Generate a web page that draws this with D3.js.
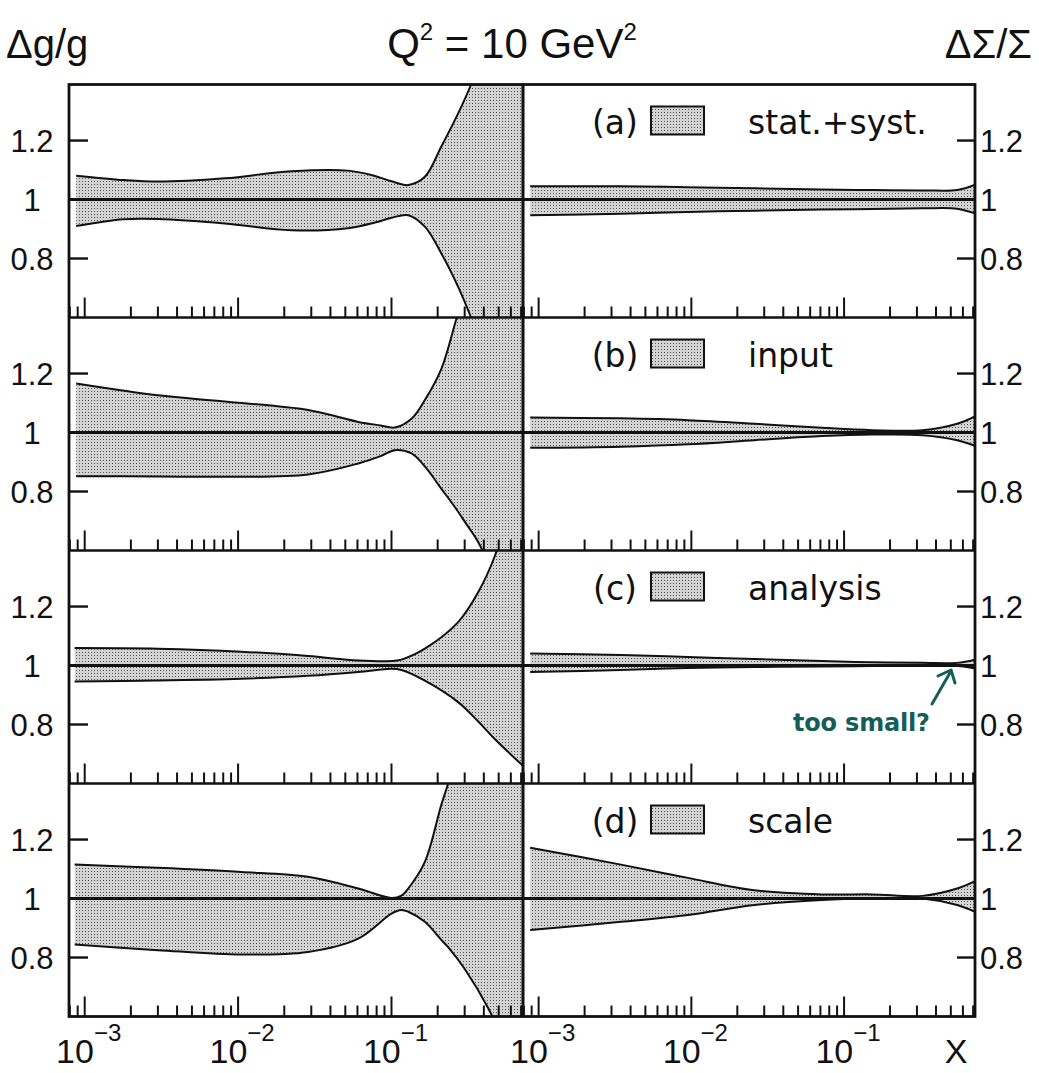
<!DOCTYPE html>
<html><head><meta charset="utf-8">
<script src="https://cdn.jsdelivr.net/npm/d3@7"></script>
<style>body{margin:0;background:#fff}</style>
</head><body>
<svg id="c" width="1039" height="1073"></svg>
<script>
// ---------- data ----------
const panelTags = ["(a)", "(b)", "(c)", "(d)"];
const legendLabels = ["stat.+syst.", "input", "analysis", "scale"];
const yTickValues = [0.8, 1, 1.2];
const yTickLabels = ["0.8", "1", "1.2"];
const xMajorValues = [1e-3, 1e-2, 1e-1];
const xMajorExponents = ["−3", "−2", "−1"];

// Δg/g (left column)
const dgA_x  = [0.00088, 0.0018, 0.003, 0.0082, 0.0222, 0.0522, 0.078, 0.1, 0.1286, 0.165, 0.211, 0.272, 0.33, 0.42, 0.55, 0.72];
const dgA_hi = [1.081, 1.066, 1.061, 1.072, 1.096, 1.098, 1.080, 1.062, 1.049, 1.077, 1.179, 1.292, 1.39, 1.55, 1.75, 2.0];
const dgA_lo = [0.910, 0.933, 0.934, 0.919, 0.896, 0.903, 0.922, 0.938, 0.947, 0.908, 0.818, 0.704, 0.600, 0.45, 0.30, 0.10];

const dgB_x  = [0.00088, 0.003, 0.0082, 0.0286, 0.0607, 0.085, 0.105, 0.135, 0.165, 0.211, 0.265, 0.301, 0.377, 0.5, 0.72];
const dgB_hi = [1.166, 1.126, 1.105, 1.076, 1.036, 1.024, 1.017, 1.047, 1.110, 1.215, 1.386, 1.48, 1.70, 1.90, 2.2];
const dgB_lo = [0.852, 0.851, 0.850, 0.858, 0.895, 0.920, 0.940, 0.929, 0.885, 0.810, 0.740, 0.697, 0.618, 0.45, 0.20];

const dgC_x  = [0.00086, 0.003, 0.0105, 0.0286, 0.0607, 0.1, 0.116, 0.165, 0.272, 0.368, 0.473, 0.72];
const dgC_hi = [1.059, 1.057, 1.047, 1.032, 1.017, 1.015, 1.020, 1.057, 1.147, 1.249, 1.373, 1.70];
const dgC_lo = [0.946, 0.949, 0.955, 0.965, 0.978, 0.989, 0.985, 0.949, 0.876, 0.810, 0.750, 0.660];

const dgD_x  = [0.00086, 0.003, 0.0105, 0.0286, 0.0607, 0.1, 0.116, 0.1286, 0.165, 0.211, 0.234, 0.301, 0.428, 0.55, 0.72];
const dgD_hi = [1.115, 1.104, 1.090, 1.074, 1.034, 1.002, 1.010, 1.034, 1.124, 1.317, 1.39, 1.60, 1.90, 2.10, 2.40];
const dgD_lo = [0.844, 0.825, 0.810, 0.819, 0.864, 0.949, 0.961, 0.955, 0.921, 0.860, 0.835, 0.760, 0.627, 0.50, 0.30];

// ΔΣ/Σ (right column)
const dsX    = [0.00088, 0.00346, 0.0095, 0.0259, 0.0716, 0.153, 0.326, 0.55, 0.72];
const dsA_hi = [1.045, 1.045, 1.042, 1.038, 1.034, 1.032, 1.031, 1.032, 1.050];
const dsA_lo = [0.947, 0.952, 0.958, 0.962, 0.966, 0.968, 0.970, 0.969, 0.953];
const dsB_hi = [1.051, 1.048, 1.042, 1.030, 1.016, 1.008, 1.008, 1.030, 1.055];
const dsB_lo = [0.948, 0.952, 0.960, 0.974, 0.988, 0.993, 0.991, 0.974, 0.955];
const dsC_hi = [1.041, 1.036, 1.029, 1.022, 1.015, 1.011, 1.009, 1.009, 1.020];
const dsC_lo = [0.978, 0.985, 0.992, 0.995, 0.997, 0.998, 0.998, 0.998, 0.990];
const dsD_hi = [1.172, 1.115, 1.070, 1.028, 1.014, 1.014, 1.009, 1.034, 1.059];
const dsD_lo = [0.893, 0.921, 0.944, 0.978, 0.995, 1.000, 1.000, 0.978, 0.955];

const leftBands = [
  {x: dgA_x, hi: dgA_hi, lo: dgA_lo},
  {x: dgB_x, hi: dgB_hi, lo: dgB_lo},
  {x: dgC_x, hi: dgC_hi, lo: dgC_lo},
  {x: dgD_x, hi: dgD_hi, lo: dgD_lo}
];
const rightBands = [
  {x: dsX, hi: dsA_hi, lo: dsA_lo},
  {x: dsX, hi: dsB_hi, lo: dsB_lo},
  {x: dsX, hi: dsC_hi, lo: dsC_lo},
  {x: dsX, hi: dsD_hi, lo: dsD_lo}
];

// ---------- layout ----------
const svg = d3.select("#c");
const L = 69, M = 523, R = 975, TOP = 84.5, PH = 233;
const xDomain = [0.00079, 0.72];
const xL = d3.scaleLog().domain(xDomain).range([L, M]);
const xR = d3.scaleLog().domain(xDomain).range([M, R]);
const yScale = i => d3.scaleLinear().domain([0.6, 1.39]).range([TOP + (i + 1) * PH, TOP + i * PH]);

const numFont = "'Liberation Sans', Arial, sans-serif";
const txtFont = "'DejaVu Sans', sans-serif";
const curve = d3.curveCatmullRom.alpha(0.5);

// stipple pattern
const defs = svg.append("defs");
const pat = defs.append("pattern").attr("id", "stip").attr("patternUnits", "userSpaceOnUse")
  .attr("width", 3).attr("height", 3);
pat.append("rect").attr("width", 3).attr("height", 3).attr("fill", "#d3d3d3");
pat.append("rect").attr("x", 1).attr("y", 1).attr("width", 1).attr("height", 1).attr("fill", "#555");

// minor/major x tick values
const xTicks = [];
for (let d = -4; d <= 0; d++) for (let k = 1; k <= 9; k++) {
  const v = k * Math.pow(10, d);
  if (v > xDomain[0] * 1.001 && v < xDomain[1]) xTicks.push({v, major: k === 1});
}

function drawBand(g, band, xs, ys, clipId) {
  const pts = band.x.map((x, j) => ({x, hi: band.hi[j], lo: band.lo[j]}));
  const gg = g.append("g").attr("clip-path", `url(#${clipId})`);
  gg.append("path").datum(pts)
    .attr("d", d3.area().curve(curve).x(d => xs(d.x)).y0(d => ys(d.lo)).y1(d => ys(d.hi)))
    .attr("fill", "url(#stip)");
  ["hi", "lo"].forEach(k => {
    gg.append("path").datum(pts)
      .attr("d", d3.line().curve(curve).x(d => xs(d.x)).y(d => ys(d[k])))
      .attr("fill", "none").attr("stroke", "#111").attr("stroke-width", 2);
  });
}

for (let i = 0; i < 4; i++) {
  const ys = yScale(i);
  const top = TOP + i * PH, bot = top + PH;
  ["L", "R"].forEach(side => {
    const id = `clip${side}${i}`;
    defs.append("clipPath").attr("id", id).append("rect")
      .attr("x", side === "L" ? L : M).attr("y", top)
      .attr("width", side === "L" ? M - L : R - M).attr("height", PH);
  });
  const g = svg.append("g");
  drawBand(g, leftBands[i], xL, ys, `clipL${i}`);
  drawBand(g, rightBands[i], xR, ys, `clipR${i}`);

  // centre line at 1
  g.append("line").attr("x1", L).attr("x2", R).attr("y1", ys(1)).attr("y2", ys(1))
    .attr("stroke", "#111").attr("stroke-width", 3);

  // x ticks (pointing up from panel bottom)
  [xL, xR].forEach(xs => {
    g.selectAll(null).data(xTicks).enter().append("line")
      .attr("x1", d => xs(d.v)).attr("x2", d => xs(d.v))
      .attr("y1", bot).attr("y2", d => bot - (d.major ? 20 : 11))
      .attr("stroke", "#111").attr("stroke-width", 2);
  });

  // y ticks
  [0.8, 1.2].forEach(v => {
    g.append("line").attr("x1", L).attr("x2", L + 19).attr("y1", ys(v)).attr("y2", ys(v))
      .attr("stroke", "#111").attr("stroke-width", 2.4);
    g.append("line").attr("x1", R - 18).attr("x2", R).attr("y1", ys(v)).attr("y2", ys(v))
      .attr("stroke", "#111").attr("stroke-width", 2.4);
  });
  yTickValues.forEach((v, j) => {
    g.append("text").attr("x", 32).attr("y", ys(v)).attr("dy", "0.36em")
      .attr("text-anchor", "middle").attr("font-family", numFont).attr("font-size", 31)
      .attr("fill", "#111").text(yTickLabels[j]);
    g.append("text").attr("x", 980).attr("y", ys(v)).attr("dy", "0.36em")
      .attr("text-anchor", "start").attr("font-family", numFont).attr("font-size", 31)
      .attr("fill", "#111").text(yTickLabels[j]);
  });

  // legend
  g.append("text").attr("x", 615).attr("y", top + 49).attr("text-anchor", "middle")
    .attr("font-family", txtFont).attr("font-size", 33).attr("fill", "#111").text(panelTags[i]);
  g.append("rect").attr("x", 651).attr("y", top + 22).attr("width", 53).attr("height", 28)
    .attr("fill", "url(#stip)").attr("stroke", "#111").attr("stroke-width", 2);
  g.append("text").attr("x", 748).attr("y", top + 49)
    .attr("font-family", txtFont).attr("font-size", 33).attr("fill", "#111").text(legendLabels[i]);
}

// frame
const fr = svg.append("g").attr("fill", "none").attr("stroke", "#111");
fr.append("rect").attr("x", L).attr("y", TOP).attr("width", R - L).attr("height", 4 * PH).attr("stroke-width", 2.8);
for (let i = 1; i < 4; i++)
  fr.append("line").attr("x1", L).attr("x2", R).attr("y1", TOP + i * PH).attr("y2", TOP + i * PH).attr("stroke-width", 2.4);
fr.append("line").attr("x1", M).attr("x2", M).attr("y1", TOP).attr("y2", TOP + 4 * PH).attr("stroke-width", 3);

// bottom x labels
[xL, xR].forEach(xs => {
  xMajorValues.forEach((v, j) => {
    const t = svg.append("text").attr("x", xs(v) + 4).attr("y", 1063).attr("text-anchor", "middle")
      .attr("font-family", numFont).attr("font-size", 34).attr("fill", "#111");
    t.append("tspan").text("10");
    t.append("tspan").attr("dy", -22).attr("font-size", 24).text(xMajorExponents[j]);
  });
});
svg.append("text").attr("x", 956).attr("y", 1063).attr("text-anchor", "middle")
  .attr("font-family", numFont).attr("font-size", 34).attr("fill", "#111").text("X");

// headers
svg.append("text").attr("x", 6).attr("y", 58).attr("font-family", numFont).attr("font-size", 40)
  .attr("fill", "#111").text("Δg/g");
const tt = svg.append("text").attr("x", 512).attr("y", 58).attr("text-anchor", "middle")
  .attr("font-family", numFont).attr("font-size", 42).attr("fill", "#111");
tt.append("tspan").text("Q");
tt.append("tspan").attr("dy", -18).attr("font-size", 24).text("2");
tt.append("tspan").attr("dy", 18).text(" = 10 GeV");
tt.append("tspan").attr("dy", -18).attr("font-size", 24).text("2");
svg.append("text").attr("x", 1032).attr("y", 58).attr("text-anchor", "end")
  .attr("font-family", numFont).attr("font-size", 40).attr("fill", "#111").text("ΔΣ/Σ");

// handwritten annotation
const ann = svg.append("g").attr("fill", "none").attr("stroke", "#155e57").attr("stroke-width", 3)
  .attr("stroke-linecap", "round").attr("stroke-linejoin", "round");
ann.append("path").attr("d", "M932,704 L951,671");
ann.append("path").attr("d", "M938,676 L951,670 L955,683");
svg.append("text").attr("x", 793).attr("y", 731).attr("font-family", txtFont)
  .attr("font-size", 24).attr("font-weight", "bold")
  .attr("fill", "#155e57").attr("textLength", 137).text("too small?");
</script>
</body></html>
